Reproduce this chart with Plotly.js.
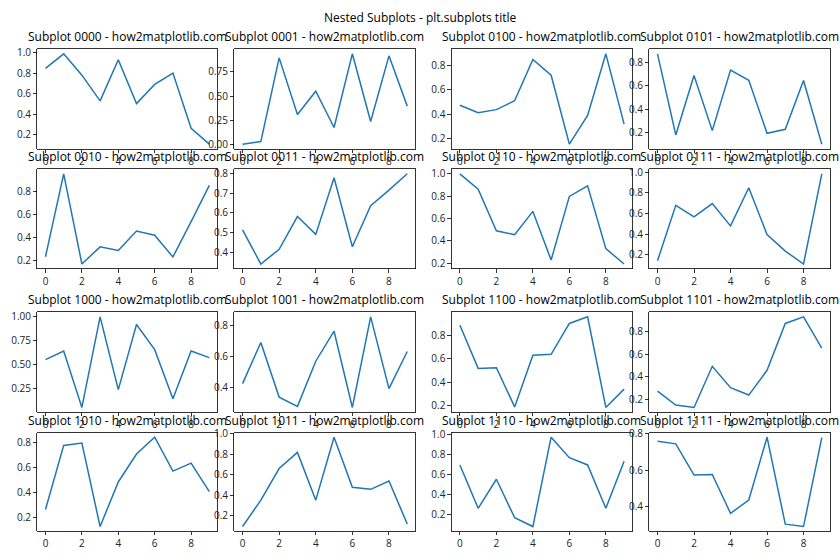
<!DOCTYPE html>
<html>
<head>
<meta charset="utf-8">
<script src="https://cdn.plot.ly/plotly-3.0.1.min.js"></script>
<style>html,body{margin:0;padding:0;background:#fff;}#chart{width:840px;height:560px;}</style>
</head>
<body>
<div id="chart"></div>
<script>
// ---- data ----
var xValues = [0, 1, 2, 3, 4, 5, 6, 7, 8, 9];
var xTickVals = [0, 2, 4, 6, 8];
var labels = ["0000", "0001", "0100", "0101",
              "0010", "0011", "0110", "0111",
              "1000", "1001", "1100", "1101",
              "1010", "1011", "1110", "1111"];
var s0000 = [0.846, 0.987, 0.78, 0.53, 0.93, 0.504, 0.69, 0.80, 0.264, 0.11];
var s0001 = [0.003, 0.03, 0.894, 0.31, 0.55, 0.175, 0.936, 0.237, 0.915, 0.396];
var s0100 = [0.473, 0.412, 0.437, 0.51, 0.85, 0.72, 0.153, 0.39, 0.896, 0.318];
var s0101 = [0.877, 0.177, 0.69, 0.214, 0.737, 0.649, 0.191, 0.226, 0.646, 0.097];
var s0010 = [0.234, 0.955, 0.171, 0.32, 0.289, 0.458, 0.421, 0.232, 0.539, 0.855];
var s0011 = [0.515, 0.343, 0.417, 0.582, 0.492, 0.777, 0.43, 0.637, 0.715, 0.797];
var s0110 = [1.0, 0.863, 0.491, 0.456, 0.664, 0.23, 0.798, 0.893, 0.331, 0.194];
var s0111 = [0.142, 0.679, 0.566, 0.695, 0.479, 0.849, 0.396, 0.235, 0.11, 0.984];
var s1000 = [0.551, 0.64, 0.056, 0.993, 0.24, 0.914, 0.654, 0.146, 0.64, 0.571];
var s1001 = [0.426, 0.692, 0.339, 0.279, 0.571, 0.765, 0.272, 0.858, 0.394, 0.634];
var s1100 = [0.885, 0.518, 0.524, 0.191, 0.629, 0.638, 0.9, 0.956, 0.186, 0.342];
var s1101 = [0.276, 0.153, 0.132, 0.494, 0.306, 0.241, 0.459, 0.871, 0.929, 0.653];
var s1010 = [0.263, 0.776, 0.795, 0.126, 0.483, 0.707, 0.842, 0.57, 0.634, 0.406];
var s1011 = [0.094, 0.352, 0.661, 0.819, 0.352, 0.968, 0.477, 0.458, 0.539, 0.119];
var s1110 = [0.694, 0.263, 0.552, 0.17, 0.082, 0.97, 0.766, 0.694, 0.263, 0.73];
var s1111 = [0.76, 0.745, 0.573, 0.576, 0.362, 0.435, 0.782, 0.302, 0.289, 0.78];
var seriesList = [s0000, s0001, s0100, s0101, s0010, s0011, s0110, s0111,
                  s1000, s1001, s1100, s1101, s1010, s1011, s1110, s1111];
var yTickStep = [0.2, 0.25, 0.2, 0.2, 0.2, 0.1, 0.2, 0.2,
                 0.25, 0.2, 0.2, 0.2, 0.2, 0.2, 0.2, 0.2];
var yTickFormat = [".1f", ".2f", ".1f", ".1f", ".1f", ".1f", ".1f", ".1f",
                   ".2f", ".1f", ".1f", ".1f", ".1f", ".1f", ".1f", ".1f"];
var suptitle = "Nested Subplots - plt.subplots title";

// ---- layout geometry (pixels) ----
var W = 840, H = 560;
var colPx = [[37.3, 217.5], [234.3, 415.5], [451.7, 632.3], [649.3, 830]];
var rowPx = [[49.3, 148.7], [169.3, 268.5], [312.3, 412], [432.7, 531]];
var FONT = "'Open Sans', 'Noto Sans', 'DejaVu Sans', sans-serif";

var traces = [];
var layout = {
  width: W, height: H,
  margin: {l: 0, r: 0, t: 0, b: 0},
  paper_bgcolor: "#fff", plot_bgcolor: "#fff",
  showlegend: false,
  font: {family: FONT, size: 10, color: "#000"},
  annotations: []
};

layout.annotations.push({
  text: suptitle, xref: "paper", yref: "paper", x: 0.5, y: 1 - 17 / H,
  xanchor: "center", yanchor: "middle", showarrow: false,
  font: {family: FONT, size: 12, color: "#000"}
});

for (var i = 0; i < seriesList.length; i++) {
  var r = Math.floor(i / 4), c = i % 4;
  var n = i === 0 ? "" : String(i + 1);
  var ys = seriesList[i];
  var ymin = Math.min.apply(null, ys), ymax = Math.max.apply(null, ys);
  var pad = 0.05 * (ymax - ymin);
  var xmin = Math.min.apply(null, xValues), xmax = Math.max.apply(null, xValues);
  var xpad = 0.05 * (xmax - xmin);
  traces.push({
    x: xValues, y: ys, type: "scatter", mode: "lines",
    line: {color: "#1f77b4", width: 1.5},
    xaxis: "x" + n, yaxis: "y" + n, hoverinfo: "skip"
  });
  var xd = [colPx[c][0] / W, colPx[c][1] / W];
  var yd = [1 - rowPx[r][1] / H, 1 - rowPx[r][0] / H];
  var common = {
    showgrid: false, zeroline: false, showline: true, mirror: true,
    linecolor: "#000", linewidth: 0.8,
    ticks: "outside", ticklen: 3.5, tickwidth: 0.8, tickcolor: "#000",
    tickfont: {family: FONT, size: 10, color: "#222"}
  };
  layout["xaxis" + n] = Object.assign({}, common, {
    domain: xd, anchor: "y" + n, range: [xmin - xpad, xmax + xpad],
    tickmode: "array", tickvals: xTickVals, ticktext: xTickVals.map(String)
  });
  layout["yaxis" + n] = Object.assign({}, common, {
    domain: yd, anchor: "x" + n, range: [ymin - pad, ymax + pad],
    tick0: 0, dtick: yTickStep[i], tickformat: yTickFormat[i]
  });
  layout.annotations.push({
    text: "Subplot " + labels[i] + " - how2matplotlib.com",
    xref: "paper", yref: "paper",
    x: (xd[0] + xd[1]) / 2, y: yd[1], yshift: 2,
    xanchor: "center", yanchor: "bottom", showarrow: false,
    font: {family: FONT, size: 12, color: "#000"}
  });
}

Plotly.newPlot("chart", traces, layout, {staticPlot: true, displayModeBar: false});
</script>
</body>
</html>
